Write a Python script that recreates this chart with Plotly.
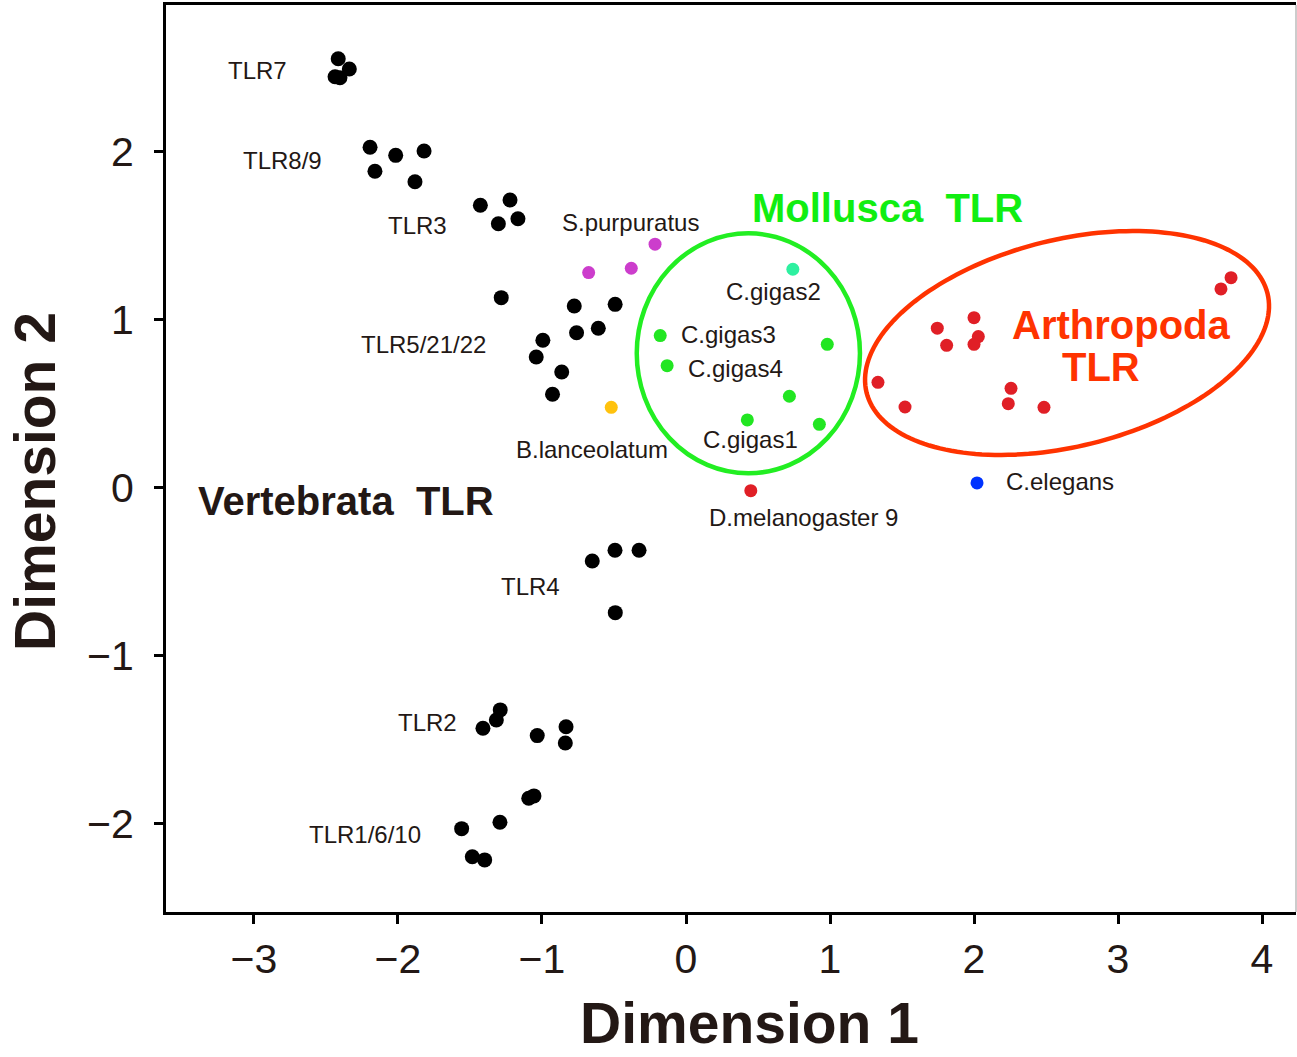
import numpy as np
import plotly.graph_objects as go

# ---------------- data ----------------
# Vertebrata TLR (black)
vert_x = [-2.415, -2.338, -2.437, -2.403,            # TLR7
          -2.194, -2.016, -1.819, -2.160, -1.882,    # TLR8/9
          -1.428, -1.222, -1.303, -1.167,            # TLR3
          -1.283, -0.776, -0.492, -0.994, -0.760, -0.609, -1.040, -0.863, -0.927,  # TLR5/21/22
          -0.651, -0.493, -0.326, -0.491,            # TLR4
          -1.290, -1.317, -1.410, -1.033, -0.833, -0.838,  # TLR2
          -1.056, -1.092, -1.292, -1.558, -1.484, -1.398]  # TLR1/6/10
vert_y = [2.555, 2.494, 2.448, 2.442,
          2.028, 1.980, 2.006, 1.885, 1.823,
          1.683, 1.714, 1.573, 1.603,
          1.133, 1.083, 1.093, 0.879, 0.924, 0.951, 0.780, 0.690, 0.558,
          -0.435, -0.371, -0.371, -0.742,
          -1.321, -1.381, -1.430, -1.474, -1.421, -1.518,
          -1.833, -1.847, -1.990, -2.028, -2.195, -2.214]

spurp_x = [-0.215, -0.380, -0.676]
spurp_y = [1.451, 1.308, 1.282]

blanc_x = [-0.519]
blanc_y = [0.480]

moll_x = [-0.179, -0.131, 0.981, 0.718, 0.426, 0.926]
moll_y = [0.907, 0.728, 0.855, 0.546, 0.405, 0.379]

cgigas2_x = [0.742]
cgigas2_y = [1.302]

arth_x = [3.785, 3.715, 2.000, 1.745, 2.030, 1.810, 2.000, 1.333, 2.257, 1.521, 2.238, 2.486]
arth_y = [1.252, 1.185, 1.014, 0.951, 0.901, 0.849, 0.855, 0.629, 0.593, 0.482, 0.502, 0.480]

dmel_x = [0.450]
dmel_y = [-0.016]

cele_x = [2.021]
cele_y = [0.030]

# point labels
lab_text = ["TLR7", "TLR8/9", "TLR3", "S.purpuratus", "TLR5/21/22", "C.gigas2",
            "C.gigas3", "C.gigas4", "B.lanceolatum", "C.gigas1", "D.melanogaster 9",
            "C.elegans", "TLR4", "TLR2", "TLR1/6/10"]
lab_x = [-2.979, -2.799, -1.868, -0.382, -1.826, 0.611,
         0.292, 0.347, -0.653, 0.451, 0.819,
         2.600, -1.083, -1.792, -2.229]
lab_y = [2.488, 1.952, 1.560, 1.583, 0.857, 1.167,
         0.911, 0.714, 0.232, 0.286, -0.173,
         0.036, -0.589, -1.393, -2.065]

# group labels
grp_text = ["Vertebrata&nbsp;&nbsp;TLR", "Mollusca&nbsp;&nbsp;TLR", "Arthropoda", "TLR"]
grp_x = [-2.361, 1.396, 3.021, 2.882]
grp_y = [-0.077, 1.667, 0.970, 0.720]
grp_color = ["#231815", "#11EE11", "#FF3300", "#FF3300"]

x_ticks = [-3, -2, -1, 0, 1, 2, 3, 4]
y_ticks = [-2, -1, 0, 1, 2]

X_RANGE = [-3.611, 4.236]
Y_RANGE = [-2.524, 2.875]

# enclosing ellipses
moll_ell = dict(x0=-0.342, x1=1.208, y0=0.0875, y1=1.516)
arth_center = (2.646, 0.863)
arth_axes_px = (206.5, 103.4)
arth_angle_deg = 13.9

# ---------------- figure ----------------
W, H = 1297, 1057
ML, MR, MT, MB = 166, 1, 5, 145
px_x = (W - ML - MR) / (X_RANGE[1] - X_RANGE[0])
px_y = (H - MT - MB) / (Y_RANGE[1] - Y_RANGE[0])

FONT = "Liberation Sans, Arial, Helvetica, sans-serif"

fig = go.Figure()

def add_pts(xs, ys, color, size):
    fig.add_trace(go.Scatter(x=xs, y=ys, mode="markers",
                             marker=dict(color=color, size=size, line=dict(width=0)),
                             showlegend=False, hoverinfo="x+y"))

add_pts(vert_x, vert_y, "#000000", 15)
add_pts(spurp_x, spurp_y, "#CC3DCC", 13)
add_pts(blanc_x, blanc_y, "#FFC20E", 13)
add_pts(moll_x, moll_y, "#22E622", 13)
add_pts(cgigas2_x, cgigas2_y, "#2EF0A0", 13)
add_pts(arth_x, arth_y, "#E01F26", 13)
add_pts(dmel_x, dmel_y, "#E01F26", 13)
add_pts(cele_x, cele_y, "#0033FF", 13)

# Mollusca ellipse
fig.add_shape(type="circle", xref="x", yref="y", **moll_ell,
              line=dict(color="#22EE22", width=4.5), layer="above")

# Arthropoda rotated ellipse
t = np.linspace(0, 2 * np.pi, 181)
th = np.deg2rad(arth_angle_deg)
u = arth_axes_px[0] * np.cos(t)
v = arth_axes_px[1] * np.sin(t)
ex = arth_center[0] + (u * np.cos(th) - v * np.sin(th)) / px_x
ey = arth_center[1] + (u * np.sin(th) + v * np.cos(th)) / px_y
path = "M " + " L ".join(f"{a:.4f},{b:.4f}" for a, b in zip(ex, ey)) + " Z"
fig.add_shape(type="path", xref="x", yref="y", path=path,
              line=dict(color="#FF3300", width=4.5), layer="above")

# right border (thin gray)
fig.add_shape(type="line", xref="paper", yref="paper", x0=1, x1=1, y0=0, y1=1,
              line=dict(color="#BBBBBB", width=1.5))

for tx, x, y in zip(lab_text, lab_x, lab_y):
    fig.add_annotation(x=x, y=y, text=tx, showarrow=False, xanchor="center", yanchor="middle",
                       font=dict(family=FONT, size=24, color="#231815"))

for tx, x, y, c in zip(grp_text, grp_x, grp_y, grp_color):
    fig.add_annotation(x=x, y=y, text=tx, showarrow=False, xanchor="center", yanchor="middle",
                       font=dict(family=FONT, size=40, color=c, weight="bold"))

# axis titles
fig.add_annotation(x=0.444, xref="x", y=-111 / (H - MT - MB), yref="paper",
                   text="Dimension 1", showarrow=False, xanchor="center", yanchor="middle",
                   font=dict(family=FONT, size=57, color="#231815", weight="bold"))
fig.add_annotation(x=(35 - ML) / (W - ML - MR), xref="paper", y=0.036, yref="y",
                   text="Dimension 2", showarrow=False, textangle=-90,
                   xanchor="center", yanchor="middle",
                   font=dict(family=FONT, size=57, color="#231815", weight="bold"))

axis_common = dict(showgrid=False, zeroline=False, showline=True, linewidth=3,
                   linecolor="black", ticks="outside", ticklen=9, tickwidth=2.5,
                   tickcolor="black", tickfont=dict(family=FONT, size=41, color="#231815"))

fig.update_xaxes(range=X_RANGE, tickvals=x_ticks, mirror=True, ticklabelstandoff=0, **axis_common)
fig.update_yaxes(range=Y_RANGE, tickvals=y_ticks, mirror=False, ticklabelstandoff=12, **axis_common)

fig.update_layout(width=W, height=H, margin=dict(l=ML, r=MR, t=MT, b=MB, autoexpand=False),
                  plot_bgcolor="white", paper_bgcolor="white", showlegend=False)

fig.write_html("out.html", config={"displayModeBar": False},
               post_script="document.body.style.margin='0px';")
